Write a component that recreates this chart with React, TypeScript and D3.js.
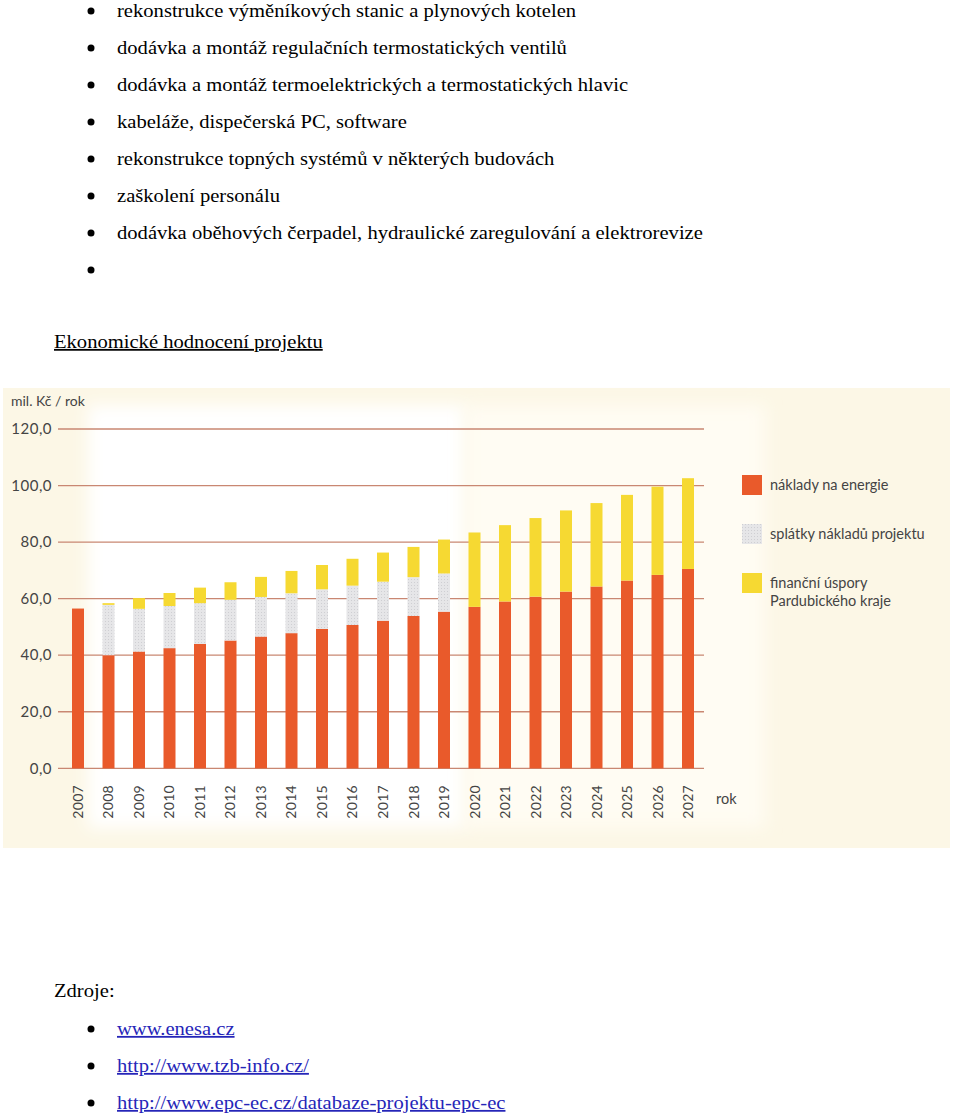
import React from "react";
import * as d3 from "d3";

const bulletItems = [
  "rekonstrukce výměníkových stanic a plynových kotelen",
  "dodávka a montáž regulačních termostatických ventilů",
  "dodávka a montáž termoelektrických a termostatických hlavic",
  "kabeláže, dispečerská PC, software",
  "rekonstrukce topných systémů v některých budovách",
  "zaškolení personálu",
  "dodávka oběhových čerpadel, hydraulické zaregulování a elektrorevize",
  "",
];
const heading = "Ekonomické hodnocení projektu";
const sourcesTitle = "Zdroje:";
const sources = [
  "www.enesa.cz",
  "http://www.tzb-info.cz/",
  "http://www.epc-ec.cz/databaze-projektu-epc-ec",
];

const years = [
  "2007", "2008", "2009", "2010", "2011", "2012", "2013", "2014", "2015", "2016",
  "2017", "2018", "2019", "2020", "2021", "2022", "2023", "2024", "2025", "2026", "2027",
];
const energyCosts = [
  56.5, 40.0, 41.3, 42.5, 44.0, 45.2, 46.6, 47.8, 49.3, 50.7,
  52.2, 53.9, 55.4, 57.1, 59.0, 60.7, 62.5, 64.3, 66.4, 68.4, 70.5,
];
const projectPayments = [
  0, 17.8, 15.1, 14.9, 14.4, 14.4, 14.0, 14.1, 14.0, 13.9,
  13.8, 13.7, 13.5, 0, 0, 0, 0, 0, 0, 0, 0,
];
const savings = [
  0, 0.6, 3.8, 4.6, 5.5, 6.2, 7.1, 7.9, 8.6, 9.5,
  10.3, 10.7, 12.0, 26.3, 27.0, 27.8, 28.7, 29.5, 30.3, 31.2, 32.1,
];
const yTicks = [0, 20, 40, 60, 80, 100, 120];
const seriesKeys = ["energy", "payments", "savings"];
const legendLabels = [
  ["náklady na energie"],
  ["splátky nákladů projektu"],
  ["finanční úspory", "Pardubického kraje"],
];
const yUnit = "mil. Kč / rok";
const xUnit = "rok";

const COLORS: Record<string, string> = {
  energy: "#e95a2b",
  payments: "url(#dotted)",
  savings: "#f6d932",
};

const SERIF = "'Liberation Serif', 'Times New Roman', serif";
const SANS = "Lato, 'Open Sans', sans-serif";
const SX = 1.145;

export default function App() {
  const x = d3
    .scaleBand<string>()
    .domain(years)
    .range([56.75, 709.25])
    .paddingInner(0.6066)
    .paddingOuter(0.5);
  const y = d3.scaleLinear().domain([0, 120]).range([768.3, 429]);

  const rows = years.map((yr, i) => ({
    year: yr,
    energy: energyCosts[i],
    payments: projectPayments[i],
    savings: savings[i],
  }));
  const stacked = d3.stack<any>().keys(seriesKeys)(rows);
  const fmt = (v: number) => d3.format(".1f")(v).replace(".", ",");

  return (
    <svg
      width={960}
      height={1119}
      style={{ position: "absolute", left: 0, top: 0, background: "#fff" }}
    >
      <defs>
        <pattern id="dotted" width="3" height="3" patternUnits="userSpaceOnUse">
          <rect width="3" height="3" fill="#e6e6e8" />
          <rect width="1" height="1" fill="#cfcfd3" />
        </pattern>
        <filter id="soft" x="-10%" y="-10%" width="120%" height="120%">
          <feGaussianBlur stdDeviation="8" />
        </filter>
      </defs>

      {/* text above */}
      {bulletItems.map((t, i) => (
        <g key={i}>
          <circle cx={91} cy={11 + 37 * i} r={3.5} fill="#000" />
          <g transform={`translate(117, ${16.7 + 37 * i}) scale(${SX},1)`}>
            <text x={0} y={0} fontFamily={SERIF} fontSize={18} fill="#000">
              {t}
            </text>
          </g>
        </g>
      ))}
      <g transform={`translate(54, 348) scale(${SX},1)`}>
        <text x={0} y={0} fontFamily={SERIF} fontSize={18} fill="#000" textDecoration="underline">
          {heading}
        </text>
      </g>

      {/* chart panel */}
      <rect x={3} y={388} width={947} height={460} fill="#fcf7e6" />
      <rect x={88} y={405} width={377} height={423} fill="#ffffff" filter="url(#soft)" />
      <rect x={465} y={405} width={300} height={423} fill="#fffcf3" filter="url(#soft)" />

      <text x={11} y={406} fontFamily={SANS} fontSize={14} fill="#444">
        {yUnit}
      </text>

      {yTicks.map((t) => (
        <g key={t}>
          <line x1={58} x2={704} y1={y(t)} y2={y(t)} stroke="#c98772" strokeWidth={1.3} />
          <text
            x={52}
            y={y(t)}
            dy="0.35em"
            textAnchor="end"
            fontFamily={SANS}
            fontSize={15}
            letterSpacing={0.5}
            fill="#444"
          >
            {fmt(t)}
          </text>
        </g>
      ))}

      {stacked.map((s) => (
        <g key={s.key} fill={COLORS[s.key]}>
          {s.map((d, i) =>
            d[1] - d[0] > 0 ? (
              <rect
                key={i}
                x={x(years[i])}
                width={x.bandwidth()}
                y={y(d[1])}
                height={y(d[0]) - y(d[1])}
              />
            ) : null
          )}
        </g>
      ))}

      {years.map((yr) => (
        <text
          key={yr}
          transform={`translate(${(x(yr) as number) + x.bandwidth() / 2 + 5}, 785) rotate(-90)`}
          textAnchor="end"
          fontFamily={SANS}
          fontSize={14}
          letterSpacing={0.3}
          fill="#444"
        >
          {yr}
        </text>
      ))}
      <text x={716} y={804} fontFamily={SANS} fontSize={14.5} fill="#444">
        {xUnit}
      </text>

      {legendLabels.map((lines, i) => (
        <g key={i} transform={`translate(742, ${475 + 49 * i})`}>
          <rect width={20} height={20} fill={COLORS[seriesKeys[i]]} />
          {lines.map((l, j) => (
            <text key={j} x={28} y={15 + 18 * j} fontFamily={SANS} fontSize={14.5} fill="#444">
              {l}
            </text>
          ))}
        </g>
      ))}

      {/* sources */}
      <g transform={`translate(54, 996.7) scale(${SX},1)`}>
        <text x={0} y={0} fontFamily={SERIF} fontSize={18} fill="#000">
          {sourcesTitle}
        </text>
      </g>
      {sources.map((s, i) => (
        <g key={s}>
          <circle cx={91} cy={1029 + 37 * i} r={3.5} fill="#000" />
          <g transform={`translate(117, ${1035 + 37 * i}) scale(${SX},1)`}>
            <text x={0} y={0} fontFamily={SERIF} fontSize={18} fill="#2525b8" textDecoration="underline">
              {s}
            </text>
          </g>
        </g>
      ))}
    </svg>
  );
}
